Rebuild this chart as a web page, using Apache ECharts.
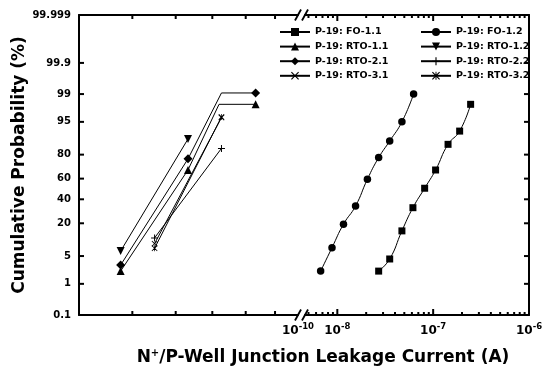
<!DOCTYPE html>
<html>
<head>
<meta charset="utf-8">
<script src="https://cdn.jsdelivr.net/npm/echarts@6/dist/echarts.min.js"></script>
<style>
  html, body { margin: 0; padding: 0; background: #fff; }
  #chart { width: 557px; height: 368px; }
</style>
</head>
<body>
<div id="chart"></div>
<script>
// y axis: cumulative probability (%) on a normal-probability scale
const yLabels = ['0.1', '1', '5', '20', '40', '60', '80', '95', '99', '99.9', '99.999'];

// x axis, part before the break (no labels except the break value)
const leftTicks = [3.07e-12, 7.64e-12, 1.65e-11, 3.33e-11, 6.17e-11];
const leftLabels = [1e-10];
// x axis, part after the break
const rightMajor = [1e-8, 1e-7, 1e-6];
const rightMinor = [5e-9, 6e-9, 7e-9, 8e-9, 9e-9,
  2e-8, 3e-8, 4e-8, 5e-8, 6e-8, 7e-8, 8e-8, 9e-8,
  2e-7, 3e-7, 4e-7, 5e-7, 6e-7, 7e-7, 8e-7, 9e-7];

// leakage current (A) and cumulative probability (%) per sample
const fo11X = [2.70e-8, 3.52e-8, 4.72e-8, 6.15e-8, 8.15e-8, 1.06e-7, 1.43e-7, 1.89e-7, 2.46e-7];
const fo11P = [2.2, 4.3, 15.2, 32.3, 50.7, 67.9, 86.3, 92.2, 98.1];
const fo12X = [6.7e-9, 8.8e-9, 1.16e-8, 1.55e-8, 2.06e-8, 2.70e-8, 3.52e-8, 4.72e-8, 6.25e-8];
const fo12P = [2.2, 7.5, 19.4, 33.8, 59.4, 77.9, 88, 95, 99.0];

const rto11X = [2.4e-12, 9.9e-12, 1.9e-11, 4.1e-11];
const rto11P = [2.2, 68, 98.1, 98.1];
const rto12X = [2.4e-12, 9.9e-12];
const rto12P = [6.4, 89];
const rto21X = [2.4e-12, 9.9e-12, 2.0e-11, 4.1e-11];
const rto21P = [3.1, 77, 99.07, 99.07];
const rto22X = [4.9e-12, 2.0e-11];
const rto22P = [11.5, 84];
const rto31X = [4.9e-12, 2.0e-11];
const rto31P = [9, 96];
const rto32X = [4.9e-12, 2.0e-11];
const rto32P = [7.3, 96.1];

// points drawn without a marker (corner of the line)
const noMarker = { 'P-19: RTO-1.1': [2], 'P-19: RTO-2.1': [2] };

// inverse normal cdf (Acklam)
function probit(pct) {
  const p = pct / 100;
  const a = [-3.969683028665376e+01, 2.209460984245205e+02, -2.759285104469687e+02, 1.383577518672690e+02, -3.066479806614716e+01, 2.506628277459239e+00];
  const b = [-5.447609879822406e+01, 1.615858368580409e+02, -1.556989798598866e+02, 6.680131188771972e+01, -1.328068155288572e+01];
  const c = [-7.784894002430293e-03, -3.223964580411365e-01, -2.400758277161838e+00, -2.549732539343734e+00, 4.374664141464968e+00, 2.938163982698783e+00];
  const d = [7.784695709041462e-03, 3.224671290700398e-01, 2.445134137142996e+00, 3.754408661907416e+00];
  const plow = 0.02425;
  let q, r;
  if (p < plow) {
    q = Math.sqrt(-2 * Math.log(p));
    return (((((c[0]*q+c[1])*q+c[2])*q+c[3])*q+c[4])*q+c[5]) / ((((d[0]*q+d[1])*q+d[2])*q+d[3])*q+1);
  }
  if (p <= 1 - plow) {
    q = p - 0.5; r = q * q;
    return (((((a[0]*r+a[1])*r+a[2])*r+a[3])*r+a[4])*r+a[5])*q / (((((b[0]*r+b[1])*r+b[2])*r+b[3])*r+b[4])*r+1);
  }
  q = Math.sqrt(-2 * Math.log(1 - p));
  return -(((((c[0]*q+c[1])*q+c[2])*q+c[3])*q+c[4])*q+c[5]) / ((((d[0]*q+d[1])*q+d[2])*q+d[3])*q+1);
}

const yTicksZ = yLabels.map(s => probit(Number(s)));
const yMin = yTicksZ[0], yMax = yTicksZ[yTicksZ.length - 1];

const FONT = 'DejaVu Sans';
const TICK = '#000';
const plotTop = 15, plotH = 300;
const leftX0 = 79, leftX1 = 298, rightX0 = 305, rightX1 = 529;
const leftMin = 1e-12, leftMax = 1e-10, rightMin = 4.6e-9, rightMax = 1e-6;

function pts(name, xs, ps) {
  const skip = noMarker[name] || [];
  return xs.map((x, i) => skip.indexOf(i) >= 0
    ? { value: [x, probit(ps[i])], symbol: 'none' }
    : [x, probit(ps[i])]);
}

const SYM = {
  down: 'path://M0,0L10,0L5,9Z',
  plus: 'path://M4.3,0H5.7V4.3H10V5.7H5.7V10H4.3V5.7H0V4.3H4.3Z',
  cross: 'path://M0,1L1,0L5,4L9,0L10,1L6,5L10,9L9,10L5,6L1,10L0,9L4,5Z',
  star: 'path://M0,1L1,0L5,4L9,0L10,1L6,5L10,9L9,10L5,6L1,10L0,9L4,5Z M4.4,0H5.6V10H4.4Z'
};

// left series: xAxis 0 / yAxis 0, right series: xAxis 2 / yAxis 1
function lineSeries(name, data, symbol, size, right) {
  return {
    name: name, type: 'line', data: data,
    xAxisIndex: right ? 2 : 0, yAxisIndex: right ? 1 : 0,
    smooth: right ? 0.5 : false,
    symbol: symbol, symbolSize: size,
    showAllSymbol: true,
    lineStyle: { color: '#000', width: 1 },
    itemStyle: { color: '#000', borderWidth: 0 },
    emphasis: { disabled: true },
    z: 3
  };
}

// inward ticks drawn by a custom series (top and bottom edge of a grid)
function xTickSeries(xIdx, yIdx, values, len) {
  return {
    type: 'custom', xAxisIndex: xIdx, yAxisIndex: yIdx, clip: false, silent: true, z: 10,
    data: values.map(v => [v, yMin]),
    renderItem: (params, api) => {
      const b = api.coord([api.value(0), yMin]);
      const t = api.coord([api.value(0), yMax]);
      const st = { stroke: TICK, lineWidth: 2 };
      return { type: 'group', children: [
        { type: 'line', shape: { x1: b[0], y1: b[1], x2: b[0], y2: b[1] - len }, style: st },
        { type: 'line', shape: { x1: t[0], y1: t[1], x2: t[0], y2: t[1] + len }, style: st }
      ] };
    }
  };
}
// inward ticks on the left (dir 1) or right (dir -1) edge
function yTickSeries(xIdx, yIdx, xEdge, dir, len) {
  return {
    type: 'custom', xAxisIndex: xIdx, yAxisIndex: yIdx, clip: false, silent: true, z: 10,
    data: yTicksZ.map(z => [xEdge, z]),
    renderItem: (params, api) => {
      const p = api.coord([xEdge, api.value(1)]);
      return { type: 'line', shape: { x1: p[0], y1: p[1], x2: p[0] + dir * len, y2: p[1] },
        style: { stroke: TICK, lineWidth: 2 } };
    }
  };
}

const supLabel = v => '{b|10}{s|' + Math.round(Math.log10(v)) + '}';
const labelRich = {
  b: { fontFamily: FONT, fontWeight: 'bold', fontSize: 12, color: '#000', verticalAlign: 'bottom', lineHeight: 14 },
  s: { fontFamily: FONT, fontWeight: 'bold', fontSize: 8.5, color: '#000', verticalAlign: 'bottom', lineHeight: 14, padding: [0, 0, 6, 0] }
};

function xLineAx(grid, pos, min, max, labels) {
  return {
    type: 'log', gridIndex: grid, position: pos, min: min, max: max,
    axisLine: { show: true, onZero: false, lineStyle: { color: '#000', width: 2 } },
    axisTick: { show: false },
    axisLabel: labels ? { show: true, customValues: labels, formatter: supLabel, rich: labelRich, margin: 8 } : { show: false },
    splitLine: { show: false }
  };
}

const yLabelFmt = v => {
  for (let i = 0; i < yTicksZ.length; i++) if (Math.abs(yTicksZ[i] - v) < 1e-6) return yLabels[i];
  return '';
};

const chart = echarts.init(document.getElementById('chart'));

const breakX = (leftX1 + rightX0) / 2;
function slashes(y) {
  return [-3.5, 3.5].map(dx => ({
    type: 'line',
    shape: { x1: breakX + dx - 3, y1: y + 5.5, x2: breakX + dx + 3, y2: y - 5.5 },
    style: { stroke: '#000', lineWidth: 1.8 }
  }));
}

const legendBase = {
  orient: 'vertical', top: 27, padding: 0, itemWidth: 30, itemHeight: 10, itemGap: 4.6,
  textStyle: { fontFamily: FONT, fontWeight: 'bold', fontSize: 9.5, color: '#000', lineHeight: 10 }
};

chart.setOption({
  animation: false,
  grid: [
    { left: leftX0, top: plotTop, width: leftX1 - leftX0, height: plotH },
    { left: rightX0, top: plotTop, width: rightX1 - rightX0, height: plotH }
  ],
  xAxis: [
    xLineAx(0, 'bottom', leftMin, leftMax, leftLabels),
    xLineAx(0, 'top', leftMin, leftMax, null),
    xLineAx(1, 'bottom', rightMin, rightMax, rightMajor),
    xLineAx(1, 'top', rightMin, rightMax, null)
  ],
  yAxis: [
    {
      type: 'value', gridIndex: 0, position: 'left', min: yMin, max: yMax,
      axisLine: { show: true, onZero: false, lineStyle: { color: '#000', width: 2 } },
      axisTick: { show: false },
      axisLabel: { show: true, customValues: yTicksZ, formatter: yLabelFmt, margin: 8,
        fontFamily: FONT, fontWeight: 'bold', fontSize: 10, color: '#000' },
      splitLine: { show: false },
      name: 'Cumulative Probability (%)', nameLocation: 'middle', nameGap: 42,
      nameTextStyle: { fontFamily: FONT, fontWeight: 'bold', fontSize: 17, color: '#000' }
    },
    {
      type: 'value', gridIndex: 1, position: 'right', min: yMin, max: yMax,
      axisLine: { show: true, onZero: false, lineStyle: { color: '#000', width: 2 } },
      axisTick: { show: false },
      axisLabel: { show: false },
      splitLine: { show: false }
    }
  ],
  legend: [
    Object.assign({}, legendBase, { left: 279,
      data: ['P-19: FO-1.1', 'P-19: RTO-1.1', 'P-19: RTO-2.1', 'P-19: RTO-3.1'] }),
    Object.assign({}, legendBase, { left: 420,
      data: ['P-19: FO-1.2', 'P-19: RTO-1.2', 'P-19: RTO-2.2', 'P-19: RTO-3.2'] })
  ],
  graphic: [
    ...slashes(plotTop),
    ...slashes(plotTop + plotH),
    {
      type: 'text', x: 323, y: 356,
      style: {
        text: '{a|N}{s|+}{a|/P-Well Junction Leakage Current (A)}',
        align: 'center', verticalAlign: 'middle',
        rich: {
          a: { fontFamily: FONT, fontWeight: 'bold', fontSize: 17, fill: '#000', verticalAlign: 'bottom', lineHeight: 20 },
          s: { fontFamily: FONT, fontWeight: 'bold', fontSize: 10, fill: '#000', verticalAlign: 'bottom', lineHeight: 20, padding: [0, 0, 8, 0] }
        }
      }
    }
  ],
  series: [
    lineSeries('P-19: FO-1.1', pts('P-19: FO-1.1', fo11X, fo11P), 'rect', 7, true),
    lineSeries('P-19: FO-1.2', pts('P-19: FO-1.2', fo12X, fo12P), 'circle', 7.5, true),
    lineSeries('P-19: RTO-1.1', pts('P-19: RTO-1.1', rto11X, rto11P), 'triangle', 8, false),
    lineSeries('P-19: RTO-1.2', pts('P-19: RTO-1.2', rto12X, rto12P), SYM.down, 8, false),
    lineSeries('P-19: RTO-2.1', pts('P-19: RTO-2.1', rto21X, rto21P), 'diamond', 9, false),
    lineSeries('P-19: RTO-2.2', pts('P-19: RTO-2.2', rto22X, rto22P), SYM.plus, 7, false),
    lineSeries('P-19: RTO-3.1', pts('P-19: RTO-3.1', rto31X, rto31P), SYM.cross, 6, false),
    lineSeries('P-19: RTO-3.2', pts('P-19: RTO-3.2', rto32X, rto32P), SYM.star, 6, false),
    xTickSeries(0, 0, leftTicks, 4),
    xTickSeries(2, 1, rightMajor, 6),
    xTickSeries(2, 1, rightMinor, 3),
    yTickSeries(0, 0, leftMin, 1, 5),
    yTickSeries(2, 1, rightMax, -1, 5)
  ]
});
</script>
</body>
</html>
